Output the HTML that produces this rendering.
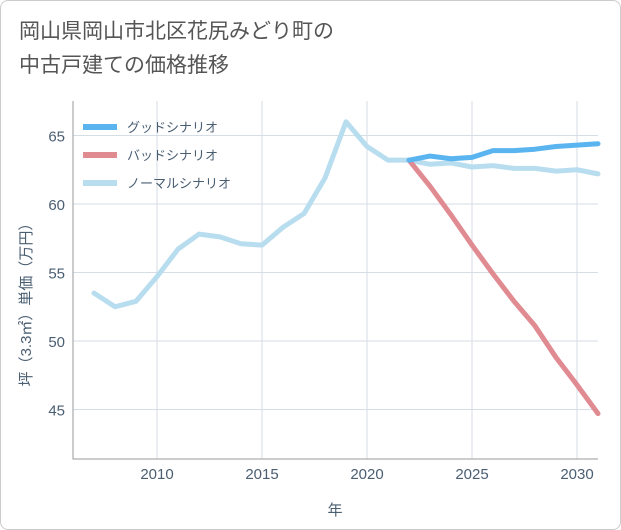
<!DOCTYPE html>
<html><head><meta charset="utf-8"><style>
body{margin:0;background:#fff;}
#wrap{position:relative;width:619px;height:528px;border:1px solid #ccc;border-radius:8px;background:#fff;overflow:hidden;font-family:"Liberation Sans","Noto Sans CJK JP",sans-serif;}
#title{position:absolute;left:18px;top:14px;font-size:21px;line-height:34px;color:#555;}
svg{position:absolute;left:0;top:0;}
</style></head><body>
<div id="wrap">
<div id="title">岡山県岡山市北区花尻みどり町の<br>中古戸建ての価格推移</div>
<svg id="c" width="621" height="530"></svg>
</div>
<script>
const years=[2007,2008,2009,2010,2011,2012,2013,2014,2015,2016,2017,2018,2019,2020,2021,2022,2023,2024,2025,2026,2027,2028,2029,2030,2031];
const normal=[53.5,52.5,52.9,54.7,56.7,57.8,57.6,57.1,57.0,58.3,59.3,61.9,66.0,64.2,63.2,63.2,62.9,63.0,62.7,62.8,62.6,62.6,62.4,62.5,62.2];
const goodYears=[2022,2023,2024,2025,2026,2027,2028,2029,2030,2031];
const good=[63.2,63.5,63.3,63.4,63.9,63.9,64.0,64.2,64.3,64.4];
const bad=[63.2,61.3,59.2,57.0,54.9,52.9,51.1,48.8,46.8,44.7];
const xTicks=[2010,2015,2020,2025,2030];
const yTicks=[45,50,55,60,65];
const NS='http://www.w3.org/2000/svg';
const svg=document.getElementById('c');
const L=72,R=597,T=100,B=458;
const x=v=>156+(v-2010)*21;
const y=v=>203-(v-60)*13.7;
const TC='#4a5e72';
function el(t,a,p){const e=document.createElementNS(NS,t);for(const k in a)e.setAttribute(k,a[k]);(p||svg).appendChild(e);return e;}
xTicks.forEach(t=>{const g=el('line',{x1:x(t),x2:x(t),y1:T,y2:B,stroke:'#d5dde5','stroke-width':1});

const tx=el('text',{x:x(t),y:478,'text-anchor':'middle','font-size':15,fill:TC});tx.textContent=t;
});
yTicks.forEach(t=>{const g=el('line',{x1:L,x2:R,y1:y(t),y2:y(t),stroke:'#d5dde5','stroke-width':1});

const tx=el('text',{x:64,y:y(t)+6,'text-anchor':'end','font-size':15,fill:TC});tx.textContent=t;
});
const ax=el('polyline',{points:`${L},${T} ${L},${B} ${R},${B}`,fill:'none',stroke:'#999','stroke-width':1});

function line(xs,vs,c,n){const p=el('polyline',{points:xs.map((v,i)=>x(v)+','+y(vs[i])).join(' '),fill:'none',stroke:c,'stroke-width':5,'stroke-linejoin':'round','stroke-linecap':'round'});
}
line(years,normal,'#b8ddef','normal-scenario-line');
line(goodYears,bad,'#e08a92','bad-scenario-line');
line(goodYears,good,'#5ab4f0','good-scenario-line');
const leg=[['グッドシナリオ','#5ab4f0'],['バッドシナリオ','#e08a92'],['ノーマルシナリオ','#b8ddef']];
leg.forEach((d,i)=>{const yy=126+i*28;
const l=el('line',{x1:82,x2:116,y1:yy,y2:yy,stroke:d[1],'stroke-width':6});

const t=el('text',{x:126,y:yy+5,'font-size':13,fill:TC});t.textContent=d[0];
});
const xt=el('text',{x:334,y:514,'text-anchor':'middle','font-size':15,fill:TC});xt.textContent='年';

const yt=el('text',{x:0,y:0,'text-anchor':'middle','font-size':15,fill:TC,transform:'translate(30,300) rotate(-90)'});yt.textContent='坪（3.3㎡）単価（万円）';

</script>
</body></html>
